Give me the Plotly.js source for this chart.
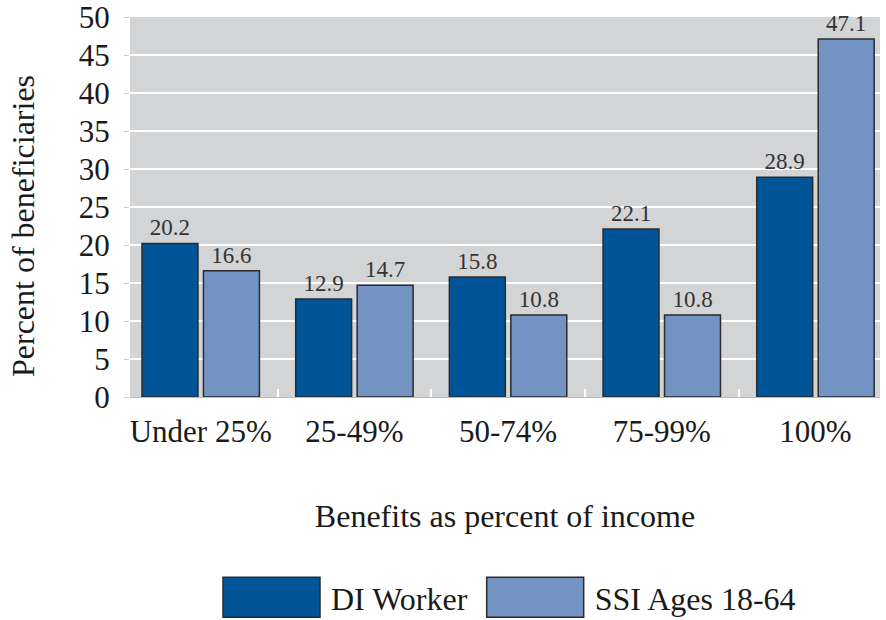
<!DOCTYPE html>
<html><head><meta charset="utf-8">
<script src="https://cdn.plot.ly/plotly-3.0.1.min.js"></script>
<style>body{margin:0;background:#fff}#chart{width:886px;height:620px}</style>
</head><body><div id="chart"></div>
<script>
const categories = ["Under 25%", "25-49%", "50-74%", "75-99%", "100%"];
const diWorker = [20.2, 12.9, 15.8, 22.1, 28.9];
const ssi = [16.6, 14.7, 10.8, 10.8, 47.1];
const seriesNames = ["DI Worker", "SSI Ages 18-64"];
const yTicks = [0, 5, 10, 15, 20, 25, 30, 35, 40, 45, 50];

const font = "Liberation Serif, Times New Roman, serif";
const txt = "#1a1a1a";
const mk = (name, y, color) => ({
  type: "bar", name: name, x: categories, y: y,
  marker: {color: color, line: {color: "#2b2b2b", width: 1.5}},
  text: y.map(v => v.toFixed(1)), textposition: "outside",
  textfont: {family: font, size: 23, color: "#333"},
  cliponaxis: false, hoverinfo: "skip"
});
const data = [mk(seriesNames[0], diWorker, "#005598"), mk(seriesNames[1], ssi, "#7393C2")];
const layout = {
  width: 886, height: 620,
  margin: {l: 130, r: 6, t: 17, b: 222},
  paper_bgcolor: "#fff", plot_bgcolor: "#D3D4D6",
  barmode: "group", bargap: 0.2, bargroupgap: 0.09,
  font: {family: font, size: 31, color: txt},
  xaxis: {
    range: [-0.46, 4.42], type: "category",
    tickfont: {family: font, size: 31, color: txt},
    ticks: "inside", tickson: "boundaries", ticklen: 8, tickwidth: 2, tickcolor: "#fff",
    ticklabelstandoff: 7,
    showline: true, linecolor: "#bbb", linewidth: 1,
    title: {text: "Benefits as percent of income", font: {family: font, size: 32, color: txt}, standoff: 56},
    automargin: false
  },
  yaxis: {
    range: [0, 50], tickvals: yTicks, ticktext: yTicks.map(String),
    gridcolor: "#fff", gridwidth: 2, zeroline: false,
    ticks: "outside", ticklen: 5, tickcolor: "#ccc", ticklabelstandoff: 8,
    ticklabeloverflow: "allow",
    tickfont: {family: font, size: 31, color: txt},
    title: {text: "Percent of beneficiaries", font: {family: font, size: 32, color: txt}, standoff: 34},
    automargin: false
  },
  showlegend: true,
  legend: {orientation: "h", x: 0.5, xanchor: "center", y: -0.497, yanchor: "middle",
    font: {family: font, size: 32, color: txt}, itemwidth: 112, traceorder: "normal"}
};
function shiftY(el, dy) {
  if (!el) return;
  const m = /translate\(\s*([-\d.]+)[ ,]+([-\d.]+)\s*\)/.exec(el.getAttribute("transform") || "");
  if (m) el.setAttribute("transform", "translate(" + m[1] + "," + (parseFloat(m[2]) + dy) + ")");
  else el.setAttribute("transform", "translate(0," + dy + ")");
}
Plotly.newPlot("chart", data, layout, {staticPlot: true}).then(() => {
  document.querySelectorAll("#chart .legendpoints path").forEach(p => {
    p.setAttribute("d", "M50,20H-47V-20H50Z");
  });
  shiftY(document.querySelector("#chart .legend"), 10);
  shiftY(document.querySelector("#chart .g-ytitle"), 19);
});
</script></body></html>
